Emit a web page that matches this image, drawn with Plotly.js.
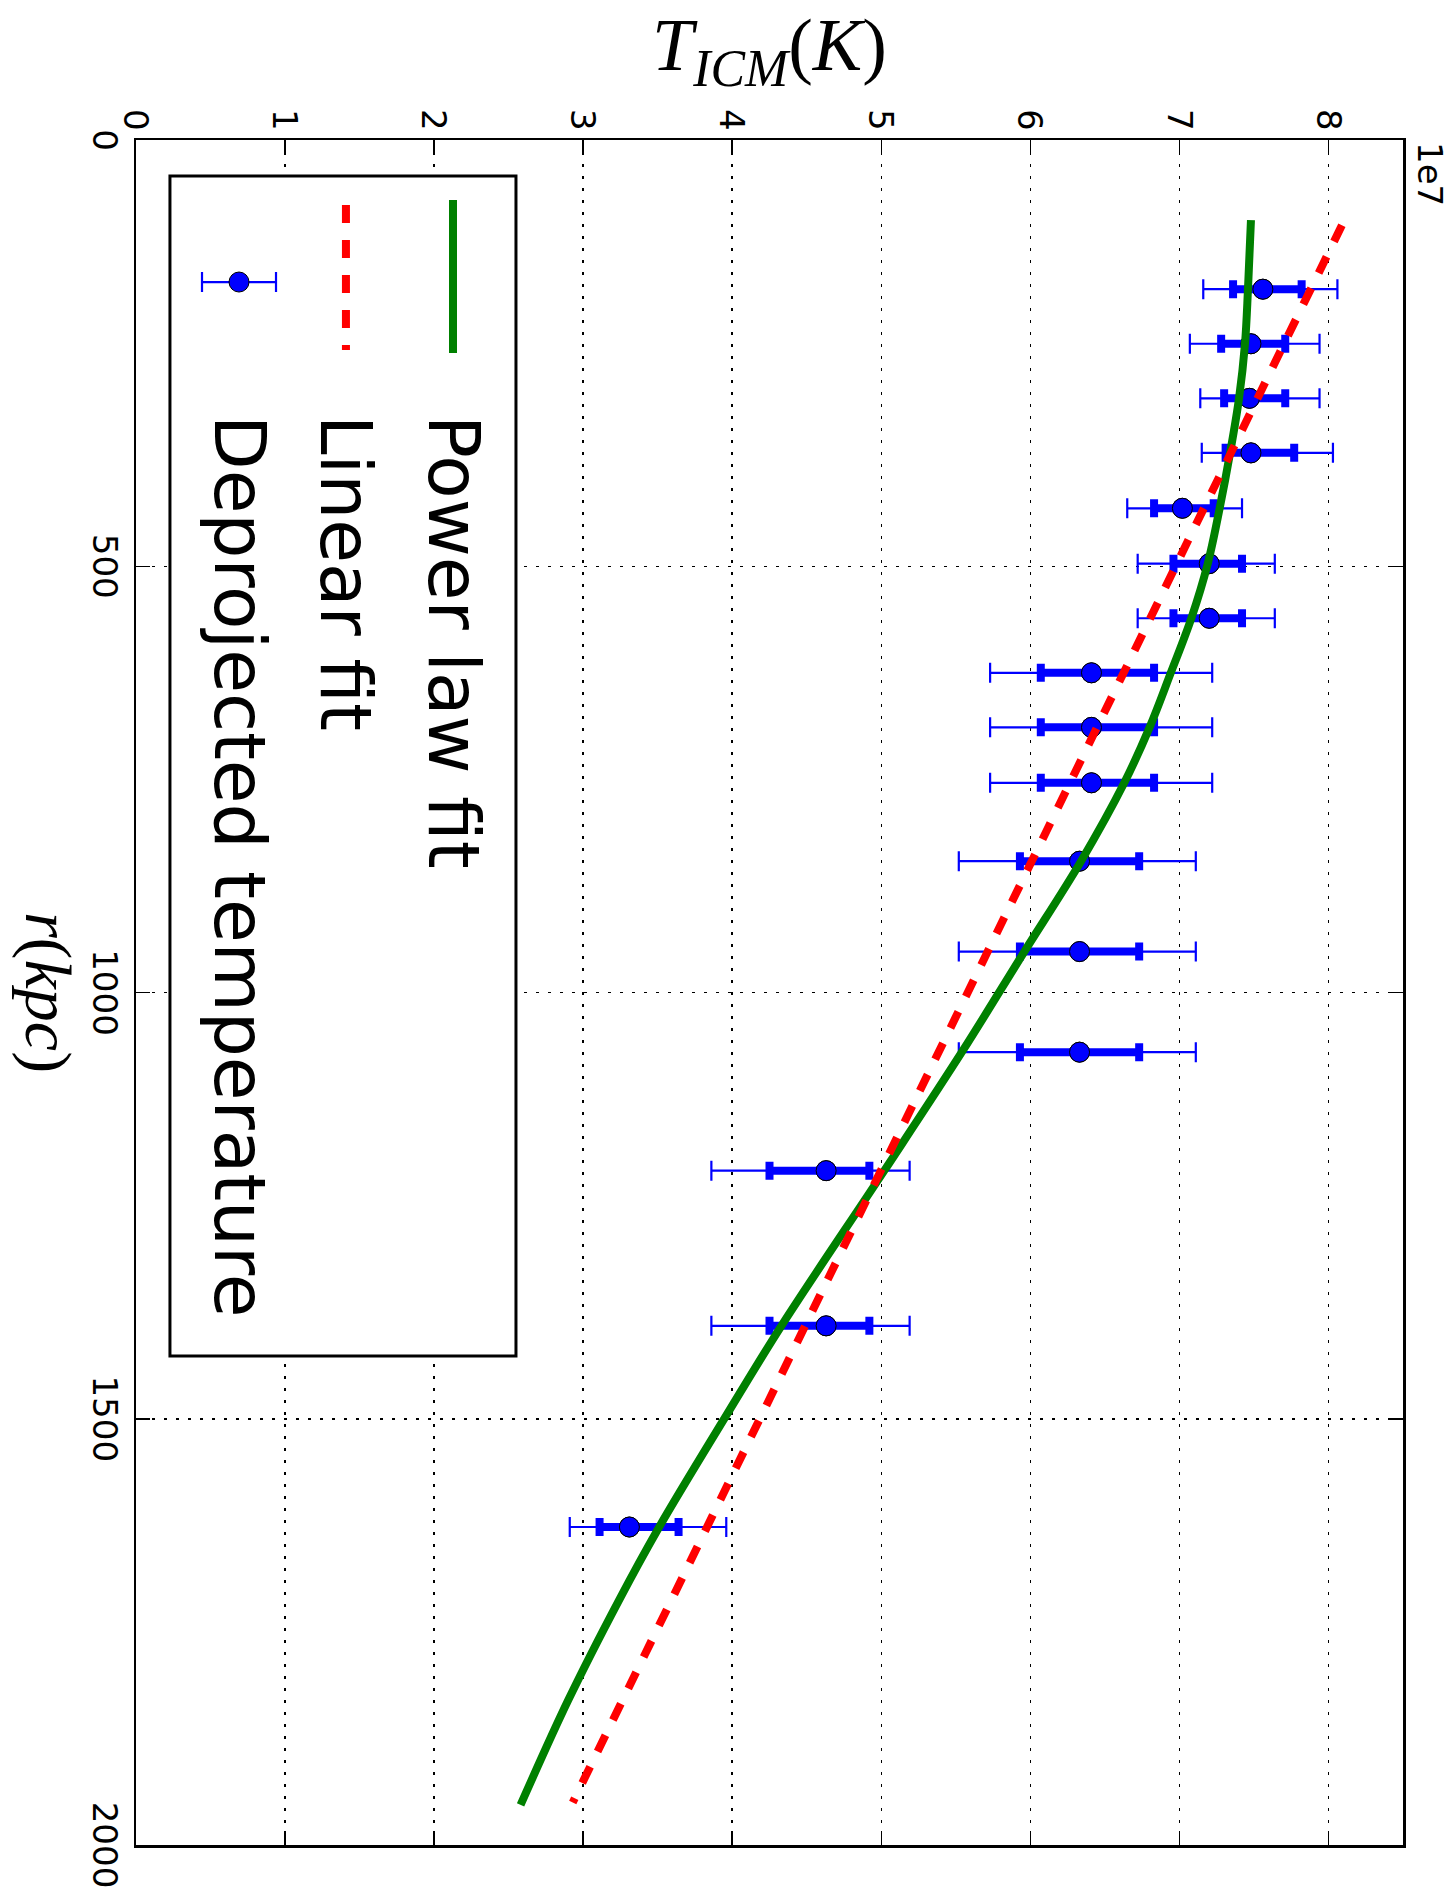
<!DOCTYPE html>
<html>
<head>
<meta charset="utf-8">
<script src="https://cdn.plot.ly/plotly-3.0.1.min.js"></script>
<style>
  html, body { margin: 0; padding: 0; background: #ffffff; overflow: hidden; }
  body { width: 1454px; height: 1903px; position: relative; }
  /* The figure is laid out landscape (r along x, T along y) and turned a quarter turn clockwise */
  #chart {
    position: absolute; left: 0; top: 0;
    width: 1903px; height: 1454px;
    transform-origin: 0 0;
    transform: translate(1454px, 0) rotate(90deg);
  }
</style>
</head>
<body>
<div id="chart"></div>
<script>
// Radius in kpc, temperature in units of 1e7 K
const rTicks = [0, 500, 1000, 1500, 2000];
const tTicks = [0, 1, 2, 3, 4, 5, 6, 7, 8];
const tTickLabels = ['0', '1', '2', '3', '4', '5', '6', '7', '8'];

// Deprojected temperature profile
const rData = [175, 239, 303, 367, 432, 497, 561, 625, 689, 754, 846, 952, 1070, 1209, 1391, 1627];
const tData = [7.56, 7.48, 7.47, 7.48, 7.02, 7.20, 7.20, 6.41, 6.41, 6.41, 6.33, 6.33, 6.33, 4.63, 4.63, 3.31];
// outer (thin) uncertainties
const errOuterMinus = [0.40, 0.41, 0.33, 0.33, 0.37, 0.48, 0.48, 0.68, 0.68, 0.68, 0.81, 0.81, 0.81, 0.77, 0.77, 0.40];
const errOuterPlus  = [0.50, 0.46, 0.47, 0.55, 0.40, 0.44, 0.44, 0.81, 0.81, 0.81, 0.78, 0.78, 0.78, 0.56, 0.56, 0.65];
// inner (thick) uncertainties
const errInnerMinus = [0.20, 0.20, 0.17, 0.17, 0.19, 0.24, 0.24, 0.34, 0.34, 0.34, 0.40, 0.40, 0.40, 0.38, 0.38, 0.20];
const errInnerPlus  = [0.26, 0.23, 0.24, 0.29, 0.21, 0.22, 0.22, 0.42, 0.42, 0.42, 0.40, 0.40, 0.40, 0.29, 0.29, 0.33];

// Power law fit
const rPower = [94, 175, 239, 303, 367, 432, 497, 561, 626, 689, 754, 846, 952, 1070, 1209, 1391, 1499, 1627, 1713, 1830, 1953];
const tPower = [7.48, 7.46, 7.44, 7.40, 7.34, 7.27, 7.19, 7.08, 6.94, 6.80, 6.63, 6.34, 5.96, 5.54, 5.02, 4.33, 3.95, 3.51, 3.24, 2.90, 2.58];

// Linear fit
const rLinear = [100, 1950];
const tLinear = [8.09, 2.93];

const legendLabels = ['Power law fit', 'Linear fit', 'Deprojected temperature'];

const BLUE = '#0000ff', GREEN = '#008000', RED = '#ff0000';
const tickFont = { family: 'DejaVu Sans, sans-serif', size: 34, color: '#000' };
const mathFont = { family: 'Liberation Serif, serif', size: 74, color: '#000' };

const traces = [
  {
    x: rData, y: tData, type: 'scatter', mode: 'markers', showlegend: false,
    marker: { size: 20, color: BLUE, line: { color: '#000', width: 1 } },
    error_y: { type: 'data', symmetric: false, array: errOuterPlus, arrayminus: errOuterMinus,
               color: BLUE, thickness: 2.2, width: 10 }
  },
  {
    x: rData, y: tData, type: 'scatter', mode: 'markers', showlegend: false,
    marker: { size: 20, color: BLUE, line: { color: '#000', width: 1 } },
    error_y: { type: 'data', symmetric: false, array: errInnerPlus, arrayminus: errInnerMinus,
               color: BLUE, thickness: 8, width: 9 }
  },
  {
    x: rPower, y: tPower, type: 'scatter', mode: 'lines', showlegend: false,
    line: { color: GREEN, width: 8, shape: 'spline', smoothing: 1 }
  },
  {
    x: rLinear, y: tLinear, type: 'scatter', mode: 'lines', showlegend: false,
    line: { color: RED, width: 8, dash: '18px,17px' }
  }
];

// legend frame and samples (paper coordinates)
const LX0 = 0.0211, LX1 = 0.7132, LY0 = 0.0268, LY1 = 0.2999;
const rowY = [0.2502, 0.1657, 0.0813];
const sampleX0 = 0.0352, sampleX1 = 0.1249, markX = 0.0833, textX = 0.1601;

const shapes = [
  { type: 'rect', xref: 'paper', yref: 'paper', x0: LX0, x1: LX1, y0: LY0, y1: LY1,
    fillcolor: '#ffffff', line: { color: '#000', width: 3 }, layer: 'above' },
  { type: 'line', xref: 'paper', yref: 'paper', x0: sampleX0, x1: sampleX1, y0: rowY[0], y1: rowY[0],
    line: { color: GREEN, width: 8 }, layer: 'above' },
  { type: 'line', xref: 'paper', yref: 'paper', x0: 0.0381, x1: 0.1232, y0: rowY[1], y1: rowY[1],
    line: { color: RED, width: 8, dash: '18px,17px' }, layer: 'above' },
  { type: 'line', xref: 'paper', yref: 'paper', x0: markX, x1: markX,
    ysizemode: 'pixel', yanchor: rowY[2], y0: -37, y1: 37,
    line: { color: BLUE, width: 2.2 }, layer: 'above' },
  { type: 'line', xref: 'paper', yref: 'paper', xsizemode: 'pixel', xanchor: markX, x0: -10, x1: 10,
    ysizemode: 'pixel', yanchor: rowY[2], y0: 37, y1: 37,
    line: { color: BLUE, width: 2.2 }, layer: 'above' },
  { type: 'line', xref: 'paper', yref: 'paper', xsizemode: 'pixel', xanchor: markX, x0: -10, x1: 10,
    ysizemode: 'pixel', yanchor: rowY[2], y0: -37, y1: -37,
    line: { color: BLUE, width: 2.2 }, layer: 'above' },
  { type: 'circle', xref: 'paper', yref: 'paper', xsizemode: 'pixel', xanchor: markX, x0: -10, x1: 10,
    ysizemode: 'pixel', yanchor: rowY[2], y0: -10, y1: 10,
    fillcolor: BLUE, line: { color: '#000', width: 1 }, layer: 'above' }
];

const annotations = legendLabels.map((t, i) => ({
  text: t, xref: 'paper', yref: 'paper', x: textX, y: rowY[i],
  xanchor: 'left', yanchor: 'middle', showarrow: false,
  font: { family: 'DejaVu Sans, sans-serif', size: 71, color: '#000' }
}));
annotations.push({
  text: '1e7', xref: 'paper', yref: 'paper', x: 0, y: 1.004,
  xanchor: 'left', yanchor: 'bottom', showarrow: false, font: tickFont
});

const axisCommon = {
  showline: true, linecolor: '#000', linewidth: 2.5, mirror: 'ticks',
  ticks: 'inside', ticklen: 14, tickwidth: 1.5, tickcolor: '#000',
  showgrid: true, gridcolor: '#000', gridwidth: 1.5, griddash: '3px,9px',
  zeroline: false, tickfont: tickFont
};

const layout = {
  width: 1903, height: 1454,
  margin: { l: 140, r: 58, t: 51, b: 136 },
  paper_bgcolor: '#ffffff', plot_bgcolor: '#ffffff',
  showlegend: false,
  xaxis: Object.assign({}, axisCommon, {
    range: [0, 2000], tickmode: 'array', tickvals: rTicks,
    ticktext: rTicks.map(String),
    title: { text: '<i>r</i>(<i>kpc</i>)', font: Object.assign({}, mathFont, { size: 66 }), standoff: 14 }
  }),
  yaxis: Object.assign({}, axisCommon, {
    range: [0, 8.5], tickmode: 'array', tickvals: tTicks, ticktext: tTickLabels,
    title: { text: '<i>T</i><sub><i>ICM</i></sub>(<i>K</i>)', font: mathFont, standoff: 14 }
  }),
  shapes: shapes,
  annotations: annotations
};

Plotly.newPlot('chart', traces, layout, { displayModeBar: false, staticPlot: true });
</script>
</body>
</html>
